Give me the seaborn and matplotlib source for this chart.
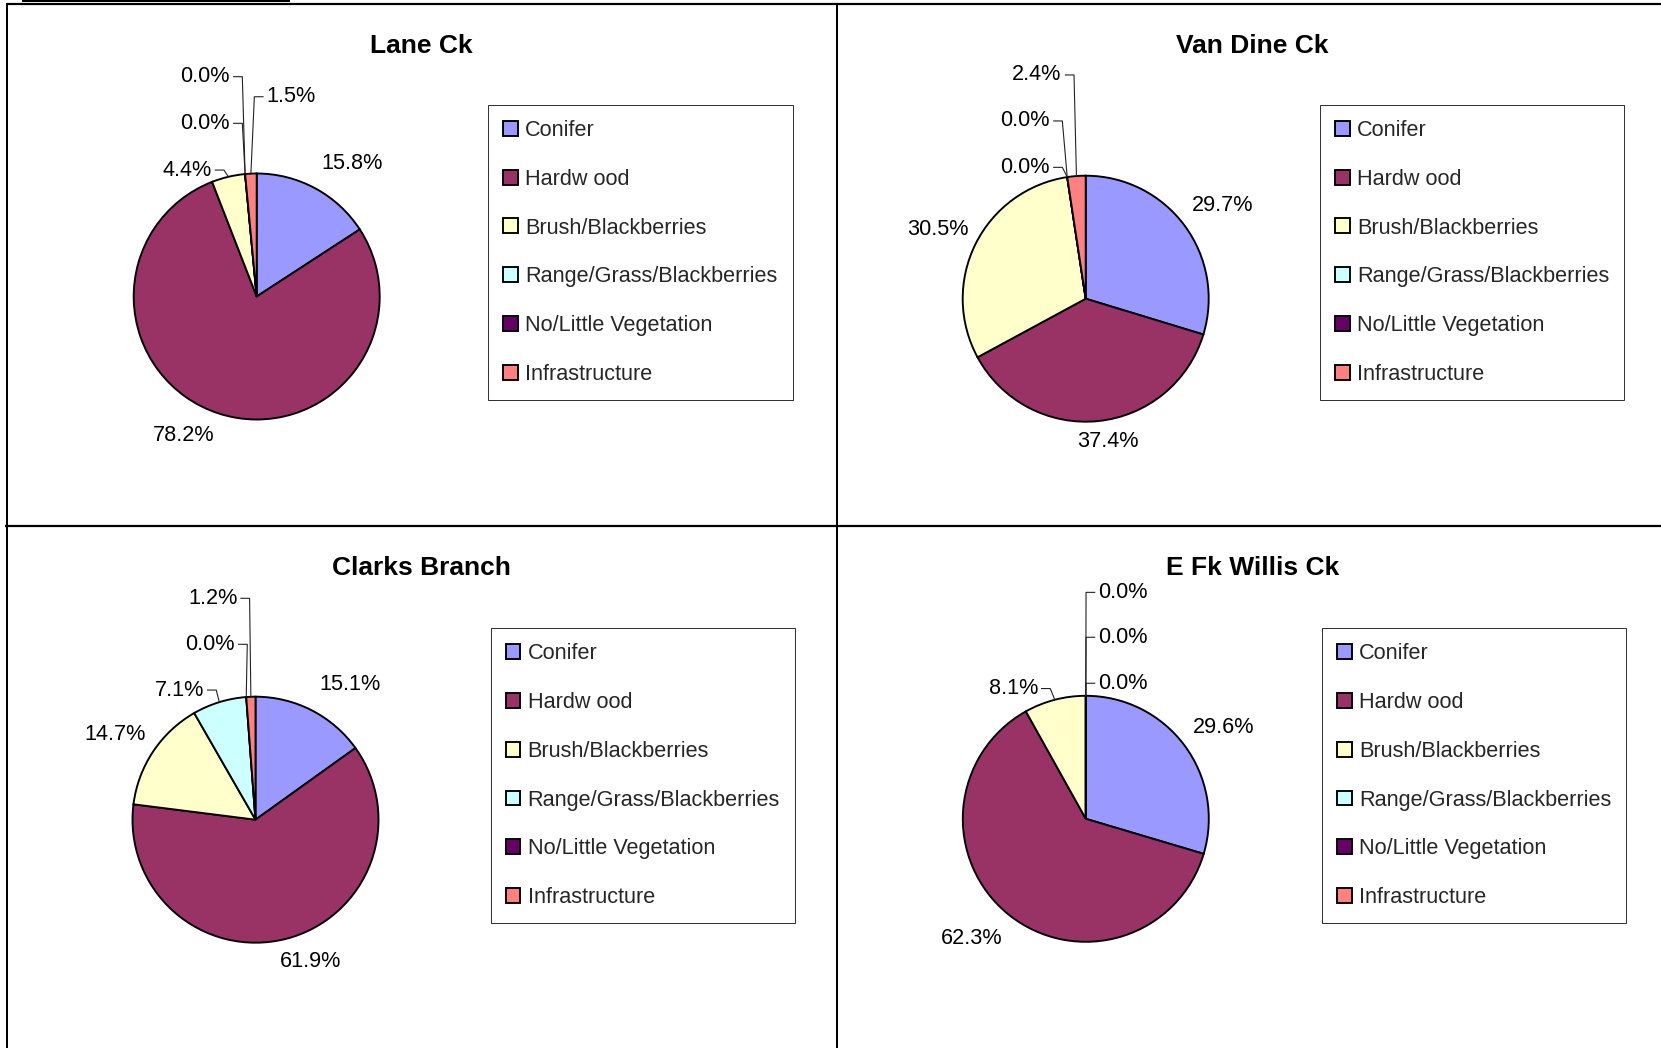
import numpy as np
import matplotlib
matplotlib.use("Agg")
import matplotlib.pyplot as plt
from matplotlib.lines import Line2D
import seaborn as sns

# ---- data -------------------------------------------------------------
categories = ["Conifer", "Hardw ood", "Brush/Blackberries",
              "Range/Grass/Blackberries", "No/Little Vegetation",
              "Infrastructure"]
palette_hex = ["#9999FF", "#993366", "#FFFFCC", "#CCFFFF", "#660066", "#FF8080"]

titles = ["Lane Ck", "Van Dine Ck", "Clarks Branch", "E Fk Willis Ck"]
lane_ck = [15.8, 78.2, 4.4, 0.0, 0.0, 1.5]
van_dine_ck = [29.7, 37.4, 30.5, 0.0, 0.0, 2.4]
clarks_branch = [15.1, 61.9, 14.7, 7.1, 0.0, 1.2]
e_fk_willis_ck = [29.6, 62.3, 8.1, 0.0, 0.0, 0.0]
series = [lane_ck, van_dine_ck, clarks_branch, e_fk_willis_ck]

# ---- layout (pixels on a 1661 x 1048 canvas) ---------------------------
W, H = 1661, 1048
RADIUS = 123
pie_centres = [(256.7, 296.5), (1085.7, 298.7), (255.5, 819.7), (1085.8, 818.8)]
title_pos = [(421, 46), (1252, 46), (421, 568), (1253, 568)]
legend_corner = [(488.3, 104.9), (1319.9, 104.9), (490.5, 628.2), (1322.0, 628.2)]

# label anchors in pie-radius units: (x, y, ha, with_leader)
label_specs = [
    [(0.772, 1.085, "center", False), (-0.597, -1.129, "center", False),
     (-0.366, 1.028, "right", True), (-0.217, 1.408, "right", True),
     (-0.217, 1.787, "right", True), (0.081, 1.624, "left", True)],
    [(1.111, 0.758, "center", False), (0.181, -1.163, "center", False),
     (-1.205, 0.559, "center", False), (-0.290, 1.068, "right", True),
     (-0.290, 1.445, "right", True), (-0.195, 1.819, "right", True)],
    [(0.765, 1.101, "center", False), (0.446, -1.155, "center", False),
     (-1.138, 0.696, "center", False), (-0.419, 1.054, "right", True),
     (-0.167, 1.426, "right", True), (-0.148, 1.800, "right", True)],
    [(1.120, 0.741, "center", False), (-0.930, -0.973, "center", False),
     (-0.389, 1.059, "right", True), (0.102, 1.102, "left", True),
     (0.102, 1.476, "left", True), (0.102, 1.841, "left", True)],
]

sns.set_theme(style="white")
plt.rcParams["font.family"] = ["Liberation Sans", "DejaVu Sans"]
colors = sns.color_palette(palette_hex)

fig = plt.figure(figsize=(W / 100, H / 100), dpi=100)
fig.patch.set_facecolor("white")

K = 2.2  # half-extent of each pie axes, in radius units
px = 0.72  # points per pixel at 100 dpi

for values, title, (cx, cy), (tx, ty), (lx, ly), specs in zip(
        series, titles, pie_centres, title_pos, legend_corner, label_specs):
    ax = fig.add_axes([(cx - K * RADIUS) / W, 1 - (cy + K * RADIUS) / H,
                       2 * K * RADIUS / W, 2 * K * RADIUS / H])
    wedges, _ = ax.pie(values, colors=colors, startangle=90, counterclock=False,
                       radius=1.0,
                       wedgeprops=dict(edgecolor="black", linewidth=1.9 * px))
    ax.set_xlim(-K, K)
    ax.set_ylim(-K, K)
    ax.axis("off")

    gap = 0.025
    stub = 0.10
    for v, w, (x, y, ha, leader) in zip(values, wedges, specs):
        ax.text(x, y, f"{v:.1f}%", ha=ha, va="center", fontsize=15.6,
                color="black")
        if leader:
            mid = np.deg2rad((w.theta1 + w.theta2) / 2)
            ex, ey = np.cos(mid), np.sin(mid)
            sgn = 1 if ha == "right" else -1
            xs = [x + sgn * gap, x + sgn * stub, ex]
            ys = [y, y, ey]
            ax.plot(xs, ys, color="#222222", lw=1.1 * px,
                    solid_capstyle="butt", clip_on=False)

    fig.text(tx / W, 1 - ty / H, title, ha="center", va="center",
             fontsize=19, fontweight="bold", color="black")

    leg = ax.legend(wedges, categories, loc="upper left",
                    bbox_to_anchor=(lx / W, 1 - ly / H),
                    bbox_transform=fig.transFigure, borderaxespad=0,
                    fontsize=15.6, handlelength=0.68, handleheight=0.68,
                    handletextpad=0.33, labelspacing=1.28, borderpad=0.7,
                    frameon=True, fancybox=False, framealpha=1,
                    edgecolor="#333333")
    leg.get_frame().set_linewidth(1.0 * px)

# panel rules
rules = [
    ((7, 1661), (4, 4), 2.2),
    ((22, 290), (0.8, 0.8), 2.0),
    ((7, 7), (3, 1048), 2.0),
    ((837, 837), (3, 1048), 2.0),
    ((5, 1661), (525.7, 525.7), 2.2),
]
for (x0, x1), (y0, y1), lw in rules:
    fig.add_artist(Line2D([x0 / W, x1 / W], [1 - y0 / H, 1 - y1 / H],
                          transform=fig.transFigure, color="black",
                          lw=lw * px, solid_capstyle="butt"))

fig.savefig("out.png", dpi=100, facecolor="white")
